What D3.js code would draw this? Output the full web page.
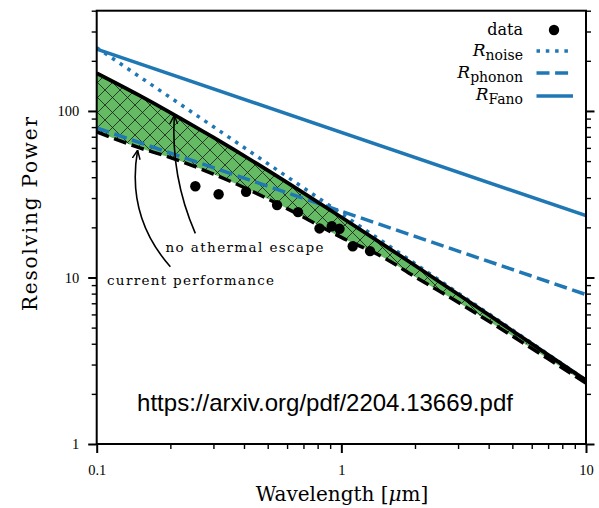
<!DOCTYPE html>
<html><head><meta charset="utf-8">
<script src="https://cdn.jsdelivr.net/npm/d3@7"></script>
<style>body{margin:0;background:#fff}</style>
</head><body><svg id="c" width="599" height="508"></svg>
<script>
// ---- data ----
const curveLambda = [0.1,0.15,0.2,0.3,0.45,0.65,1,1.5,2,3,5,7,10];
const noAthermal  = [168.5,123.5,97.8,69.3,48.4,34.5,23.0,15.6,11.8,7.93,4.79,3.43,2.41];
const currentPerf = [75,60,52.5,41.8,32,24.4,17.4,13.1,10.1,7.1,4.45,3.25,2.32];
const noiseLambda = [0.1,1,10];
const noiseR      = [240,24.2,2.42];
const phononLambda= [0.1,10];
const phononR     = [79,7.9];
const fanoLambda  = [0.1,10];
const fanoR       = [235,23.5];
const dataLambda  = [0.253,0.315,0.408,0.546,0.665,0.814,0.914,0.983,1.113,1.31];
const dataR       = [35.3,31.6,32.7,27.2,24.7,19.7,20.3,19.6,15.4,14.4];
const xTickValues = [0.1,1,10];
const xTickLabels = ["0.1","1","10"];
const yTickValues = [1,10,100];
const yTickLabels = ["1","10","100"];
const xMinor = [0.2,0.3,0.4,0.5,0.6,0.7,0.8,0.9,2,3,4,5,6,7,8,9];
const yMinor = [2,3,4,5,6,7,8,9,20,30,40,50,60,70,80,90,200,300,400];
// annotation arrows: [startLambda, startR, tipLambda, tipR]
const arrowNoAth = [0.253,18.4,0.2076,94.2];
const arrowCur   = [0.2,11.6,0.147,58.1];

const blue = "#1f77b4";
const serif = "'Liberation Serif','Times New Roman',serif";
const dserif = "'DejaVu Serif',serif";
const L=96.7, R=586, T=10.7, B=444;

const svg = d3.select("#c");
svg.append("rect").attr("width",599).attr("height",508).attr("fill","#fff");
const x = d3.scaleLog().domain([0.1,10]).range([L,R]);
const y = d3.scaleLog().domain([1,400]).range([B,T]);

const defs = svg.append("defs");
defs.append("clipPath").attr("id","clip").append("rect")
  .attr("x",L).attr("y",T).attr("width",R-L).attr("height",B-T);
const pat = defs.append("pattern").attr("id","hatch").attr("patternUnits","userSpaceOnUse")
  .attr("width",15).attr("height",15);
pat.append("path").attr("d","M0,0L15,15M15,0L0,15M-1,14L1,16M14,-1L16,1M-1,1L1,-1M14,16L16,14")
  .attr("stroke","#1a1a1a").attr("stroke-width",0.8).attr("fill","none");
defs.append("marker").attr("id","arr").attr("viewBox","0 0 10 10").attr("refX",10).attr("refY",5)
  .attr("markerWidth",9).attr("markerHeight",9).attr("markerUnits","userSpaceOnUse").attr("orient","auto")
  .append("path").attr("d","M0,0.5L10,5L0,9.5").attr("fill","none").attr("stroke","#000").attr("stroke-width",1.6);

const g = svg.append("g").attr("clip-path","url(#clip)");
const band = curveLambda.map((l,i)=>({l, hi:noAthermal[i], lo:currentPerf[i]}));
const area = d3.area().x(d=>x(d.l)).y0(d=>y(d.lo)).y1(d=>y(d.hi)).curve(d3.curveMonotoneX);
g.append("path").datum(band).attr("d",area).attr("fill","#64bb64");
g.append("path").datum(band).attr("d",area).attr("fill","url(#hatch)");

const line = d3.line().x(d=>x(d[0])).y(d=>y(d[1])).curve(d3.curveMonotoneX);
const zip=(a,b)=>a.map((v,i)=>[v,b[i]]);
g.append("path").attr("d",line(zip(fanoLambda,fanoR))).attr("stroke",blue).attr("stroke-width",3.5).attr("fill","none");
g.append("path").attr("d",line(zip(phononLambda,phononR))).attr("stroke",blue).attr("stroke-width",3.5)
  .attr("stroke-dasharray","13,5.6").attr("fill","none");
g.append("path").attr("d",line(zip(noiseLambda,noiseR))).attr("stroke",blue).attr("stroke-width",3.5)
  .attr("stroke-dasharray","3.5,5.8").attr("fill","none");
g.append("path").attr("d",line(zip(curveLambda,noAthermal))).attr("stroke","#000").attr("stroke-width",3.8).attr("fill","none");
g.append("path").attr("d",line(zip(curveLambda,currentPerf))).attr("stroke","#000").attr("stroke-width",3.5)
  .attr("stroke-dasharray","13,5.6").attr("fill","none");
g.selectAll("circle.d").data(zip(dataLambda,dataR)).enter().append("circle")
  .attr("cx",d=>x(d[0])).attr("cy",d=>y(d[1])).attr("r",5.2).attr("fill","#000");

// arrows
function arrow(a, rad){
  const sx=x(a[0]), sy=y(a[1]), ex=x(a[2]), ey=y(a[3]);
  const mx=(sx+ex)/2, my=(sy+ey)/2, dx=ex-sx, dy=ey-sy;
  const cx=mx+rad*dy, cy=my-rad*dx;
  svg.append("path").attr("d",`M${sx},${sy}Q${cx},${cy} ${ex},${ey}`)
    .attr("fill","none").attr("stroke","#000").attr("stroke-width",1.6).attr("marker-end","url(#arr)");
}
arrow(arrowNoAth,0.12);
arrow(arrowCur,0.24);
svg.append("text").attr("x",165.5).attr("y",252).attr("font-family",dserif).attr("font-size",13.5)
  .attr("textLength",158).attr("lengthAdjust","spacing").text("no athermal escape");
svg.append("text").attr("x",107).attr("y",285).attr("font-family",dserif).attr("font-size",13.5)
  .attr("textLength",167).attr("lengthAdjust","spacing").text("current performance");

// watermark
svg.append("text").attr("x",325).attr("y",411).attr("text-anchor","middle")
  .attr("font-family","'Liberation Sans',Arial,sans-serif").attr("font-size",24).attr("fill","#000")
  .text("https://arxiv.org/pdf/2204.13669.pdf");

// axes
function styleAxis(sel, w){ sel.select(".domain").remove(); sel.selectAll(".tick line").attr("stroke","#000").attr("stroke-width",w); }
const fmtX=d=>xTickLabels[xTickValues.indexOf(d)], fmtY=d=>yTickLabels[yTickValues.indexOf(d)];
const ax1=svg.append("g").attr("transform",`translate(0,${B})`).call(d3.axisBottom(x).tickValues(xMinor).tickSize(5).tickFormat(""));
styleAxis(ax1,1.4);
const ax2=svg.append("g").attr("transform",`translate(0,${B})`).call(d3.axisBottom(x).tickValues(xTickValues).tickSize(9).tickPadding(12).tickFormat(fmtX));
styleAxis(ax2,2);
ax2.selectAll("text").attr("font-family",serif).attr("font-size",14.5).attr("fill","#000");
const ay1=svg.append("g").attr("transform",`translate(${L},0)`).call(d3.axisLeft(y).tickValues(yMinor).tickSize(5).tickFormat(""));
styleAxis(ay1,1.4);
const ay2=svg.append("g").attr("transform",`translate(${L},0)`).call(d3.axisLeft(y).tickValues(yTickValues).tickSize(8.5).tickPadding(9).tickFormat(fmtY));
styleAxis(ay2,2);
ay2.selectAll("text").attr("font-family",serif).attr("font-size",14.5).attr("fill","#000");
const ar1=svg.append("g").attr("transform",`translate(${R},0)`).call(d3.axisRight(y).tickValues(yMinor).tickSize(5).tickFormat(""));
styleAxis(ar1,1.4);
const ar2=svg.append("g").attr("transform",`translate(${R},0)`).call(d3.axisRight(y).tickValues(yTickValues).tickSize(8.5).tickFormat(""));
styleAxis(ar2,2);
svg.append("rect").attr("x",L).attr("y",T).attr("width",R-L).attr("height",B-T)
  .attr("fill","none").attr("stroke","#000").attr("stroke-width",2);

const xt = svg.append("text").attr("x",342).attr("y",501).attr("text-anchor","middle").attr("font-family",dserif)
  .attr("font-size",20);
xt.append("tspan").text("Wavelength [");
xt.append("tspan").attr("font-style","italic").text("μ");
xt.append("tspan").text("m]");
svg.append("text").attr("transform","translate(37,214) rotate(-90)").attr("text-anchor","middle").attr("font-family",dserif)
  .attr("font-size",20).attr("textLength",194).attr("lengthAdjust","spacing").text("Resolving Power");

// legend
const lg = svg.append("g");
lg.append("text").attr("x",523).attr("y",35).attr("text-anchor","end").attr("font-family",dserif).attr("font-size",16).text("data");
lg.append("circle").attr("cx",554).attr("cy",30).attr("r",5.2).attr("fill","#000");
const entries=[["noise","3.5,5.8",51,56],["phonon","13,5.6",73,78],["Fano",null,96,100]];
entries.forEach(([sub,dash,ly,by])=>{
  const t=lg.append("text").attr("x",523).attr("y",by).attr("text-anchor","end").attr("font-family",dserif);
  t.append("tspan").attr("font-style","italic").attr("font-size",17).text("R");
  t.append("tspan").attr("font-size",14).attr("dy",3.5).text(sub);
  const l=lg.append("line").attr("x1",536.5).attr("x2",573).attr("y1",ly).attr("y2",ly)
    .attr("stroke",blue).attr("stroke-width",3.5);
  if(dash) l.attr("stroke-dasharray",dash);
});
</script></body></html>
